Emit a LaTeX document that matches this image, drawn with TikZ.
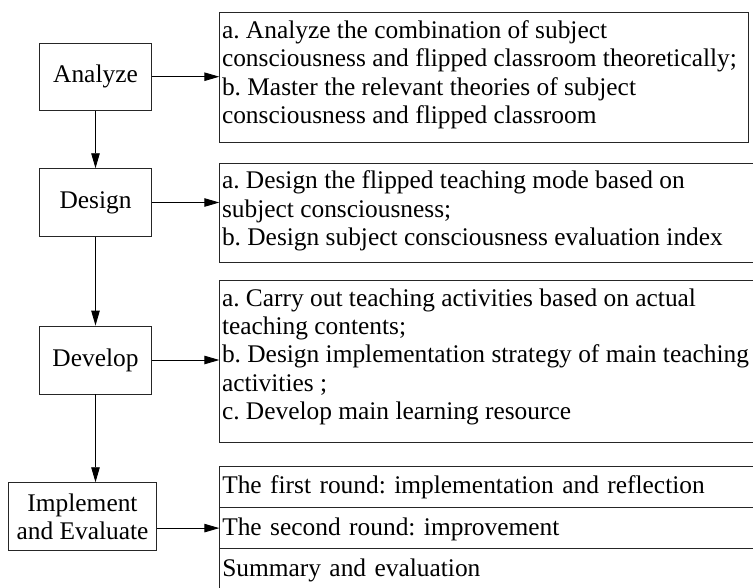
\documentclass[tikz,border=0pt]{standalone}
\usepackage{fontspec}
\setmainfont{Liberation Serif}
\usetikzlibrary{arrows.meta}
\frenchspacing
\begin{document}
\begin{tikzpicture}[x=1pt,y=-1pt,
  every node/.style={font=\rmfamily\fontsize{25.4}{28.3}\selectfont, text=black},
  lbox/.style={draw=black!85, line width=0.9pt, align=center, inner sep=0pt},
  rbox/.style={draw=black!85, line width=0.9pt, anchor=north west, inner sep=0pt},
  rtext/.style={anchor=north west, inner sep=0pt, align=left},
  rowbox/.style={draw=black!85, line width=0.9pt, anchor=north west, minimum height=41.3pt,
     text width=535pt, inner xsep=2.5pt, inner ysep=0pt, align=left, text height=19pt, text depth=5pt},
  arr/.style={draw=black, line width=0.9pt, -{Triangle[length=15pt,width=8.5pt]}}
]
\useasboundingbox (0,0) rectangle (753,587);
\clip (0,0) rectangle (753,587);

% left boxes
\node[lbox, minimum width=112.5pt, minimum height=67pt] (an) at (95.5,76.7) {Analyze};
\node[lbox, minimum width=112.5pt, minimum height=67.6pt] (de) at (95.5,202.5) {Design};
\node[lbox, minimum width=112.5pt, minimum height=68pt] (dv) at (95.5,360) {Develop};
\node[lbox, minimum width=148.4pt, minimum height=68pt] (im) at (82.5,516.7) {Implement\\and Evaluate};

% right boxes
\node[rbox, minimum width=528.7pt, minimum height=129.4pt] (ra) at (219.3,12.3) {};
\node[rtext] (ta) at ([xshift=2.5pt,yshift=-6.2pt]ra.north west) {\strut a. Analyze the combination of subject\\consciousness and flipped classroom theoretically;\\b. Master the relevant theories of subject\\consciousness and flipped classroom};

\node[rbox, minimum width=545pt, minimum height=99pt] (rb) at (219.3,163.3) {};
\node[rtext] (tb) at ([xshift=2.5pt,yshift=-5.5pt]rb.north west) {\strut a. Design the flipped teaching mode based on\\subject consciousness;\\b. Design subject consciousness evaluation index};

\node[rbox, minimum width=545pt, minimum height=161.7pt] (rc) at (219.3,280) {};
\node[rtext] (tc) at ([xshift=2.5pt,yshift=-6.2pt]rc.north west) {\strut a. Carry out teaching activities based on actual\\teaching contents;\\b. Design implementation strategy of main teaching\\activities ;\\c. Develop main learning resource};

\node[rowbox] (r1) at (219.3,465.7) {The first round: implementation and reflection};
\node[rowbox] (r2) at (219.3,507) {The second round: improvement};
\node[rowbox] (r3) at (219.3,548.3) {Summary and evaluation};

% connectors
\draw[arr] (an) -- (an -| ra.west);
\draw[arr] (de) -- (de -| rb.west);
\draw[arr] (dv) -- (dv -| rc.west);
\draw[arr] (im.east |- r2.west) -- (r2.west);
\draw[arr] (an) -- (de);
\draw[arr] (de) -- (dv);
\draw[arr] (dv.south) -- (dv.south |- im.north);
\end{tikzpicture}
\end{document}
